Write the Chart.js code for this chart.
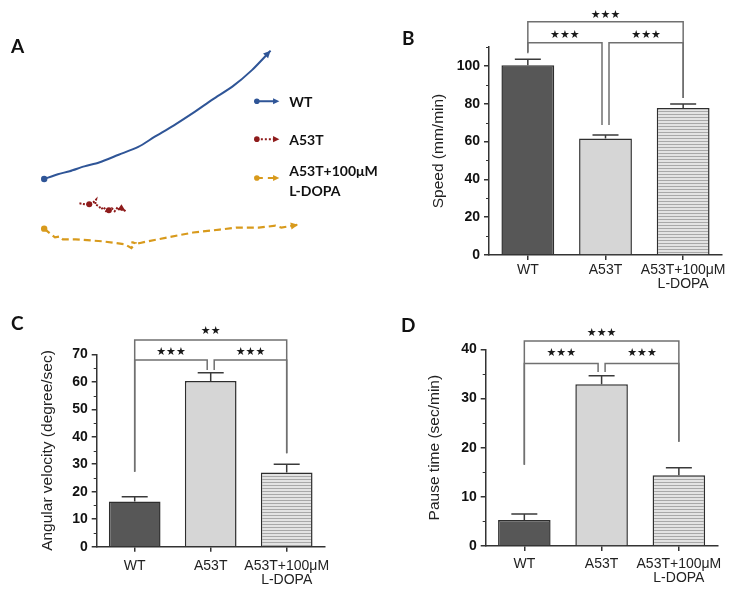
<!DOCTYPE html>
<html>
<head>
<meta charset="utf-8">
<script src="https://cdn.jsdelivr.net/npm/chart.js@4.4.1/dist/chart.umd.min.js"></script>
<style>
  html, body { margin: 0; padding: 0; background: #fff; }
  #fig { position: relative; width: 750px; height: 592px; overflow: hidden; background: #fff; }
  #fig canvas { position: absolute; }
  .tag { position: absolute; font: bold 19px Lato, "Open Sans", sans-serif; color: #111; line-height: 1; }
</style>
</head>
<body>
<div id="fig">
  <canvas id="chartA" width="400" height="290" style="left:0;top:0"></canvas>
  <canvas id="chartB" width="380" height="300" style="left:370px;top:0"></canvas>
  <canvas id="chartC" width="370" height="302" style="left:0;top:290px"></canvas>
  <canvas id="chartD" width="380" height="302" style="left:370px;top:290px"></canvas>
  <div class="tag" style="left:11px;top:36px">A</div>
  <div class="tag" style="left:402px;top:28px">B</div>
  <div class="tag" style="left:11px;top:313px">C</div>
  <div class="tag" style="left:401px;top:315px">D</div>
</div>
<script>
// ─── Data ───────────────────────────────────────────────────────────────────
const groupLabels = ["WT", "A53T", ["A53T+100μM", "L-DOPA"]];

// B: speed
const speedMean = [100.3, 61.6, 77.8];
const speedSem  = [3.2, 1.8, 2.1];
// C: angular velocity
const angularMean = [16.4, 60.3, 27.0];
const angularSem  = [1.8, 3.0, 3.0];
// D: pause time
const pauseMean = [5.3, 32.9, 14.4];
const pauseSem  = [1.2, 1.7, 1.5];

// significance brackets: from/to group, bar level, leg ends, stars
const speedBrackets = [
    { from: 0, to: 2, level: 123.3, leftEnd: 107.4, rightEnd: 83.0, stars: "★★★", starY: 126.6 },
    { from: 0, to: 1, level: 112.2, leftEnd: 106.7, rightEnd: 68.7, stars: "★★★", starY: 116.3 },
    { from: 1, to: 2, level: 112.2, leftEnd: 68.7,  rightEnd: 83.0, stars: "★★★", starY: 116.3 },
];
const angularBrackets = [
    { from: 0, to: 2, level: 75.2, leftEnd: 27.3, rightEnd: 34.0, stars: "★★",  starY: 78.3 },
    { from: 0, to: 1, level: 67.9, leftEnd: 27.3, rightEnd: 64.3, stars: "★★★", starY: 70.8 },
    { from: 1, to: 2, level: 67.9, leftEnd: 64.3, rightEnd: 34.0, stars: "★★★", starY: 70.8 },
];
const pauseBrackets = [
    { from: 0, to: 2, level: 41.7, leftEnd: 16.5, rightEnd: 21.2, stars: "★★★", starY: 43.3 },
    { from: 0, to: 1, level: 37.1, leftEnd: 16.5, rightEnd: 35.4, stars: "★★★", starY: 39.2 },
    { from: 1, to: 2, level: 37.1, leftEnd: 35.4, rightEnd: 21.2, stars: "★★★", starY: 39.2 },
];

// A: trajectories (arena units)
const wtX = [4.1, 5.5, 6.7, 8.2, 9.7, 11.7, 13.7, 15.3, 17.3, 19.3, 21.3, 23.3, 25.3, 27.2];
const wtY = [18.0, 17.5, 17.2, 16.7, 16.3, 15.5, 14.7, 13.7, 12.5, 11.2, 9.8, 8.5, 6.8, 4.8];
const a53tX = [7.7, 8.3, 8.7, 9.1, 9.4, 9.3, 9.7, 9.9, 10.2, 10.4, 10.7, 11.0, 11.3, 11.6, 11.8, 12.1, 12.4];
const a53tY = [20.5, 20.6, 20.6, 20.4, 20.1, 20.6, 20.8, 21.1, 20.9, 21.3, 21.2, 21.0, 21.3, 20.9, 21.2, 21.1, 21.3];
const ldopaX = [4.1, 5.2, 5.7, 6.0, 7.3, 10.0, 12.3, 13.0, 13.4, 13.0, 13.8, 14.7, 16.7, 19.3, 22.0, 23.7, 26.0, 27.7, 28.3, 30.0];
const ldopaY = [23.1, 24.0, 23.9, 24.2, 24.2, 24.4, 24.7, 25.1, 24.6, 24.5, 24.6, 24.4, 24.0, 23.5, 23.2, 23.0, 23.0, 22.8, 23.0, 22.7];

const legendNames = ["WT", "A53T", ["A53T+100μM", "L-DOPA"]];
const legendRows  = [10.0, 13.9, 17.9];

// ─── Colours ────────────────────────────────────────────────────────────────
const BLUE = "#2f5597";
const RED = "#8e1b1b";
const GOLD = "#d89a1c";
const FONT = "'Liberation Sans', Arial, sans-serif";

function stripes() {
    const c = document.createElement("canvas");
    c.width = 4; c.height = 3;
    const g = c.getContext("2d");
    g.fillStyle = "#e3e3e3"; g.fillRect(0, 0, 4, 3);
    g.fillStyle = "#a8a8a8"; g.fillRect(0, 0, 4, 1);
    return g.createPattern(c, "repeat");
}

function drawArrow(ctx, x0, y0, x1, y1, color, size) {
    const ang = Math.atan2(y1 - y0, x1 - x0);
    ctx.save();
    ctx.fillStyle = color;
    ctx.beginPath();
    ctx.moveTo(x1, y1);
    ctx.lineTo(x1 - size * Math.cos(ang - 0.45), y1 - size * Math.sin(ang - 0.45));
    ctx.lineTo(x1 - size * Math.cos(ang + 0.45), y1 - size * Math.sin(ang + 0.45));
    ctx.closePath();
    ctx.fill();
    ctx.restore();
}

// ═══════════════════════════════════════════════════════════════════════════
//  PANEL A — trajectories
// ═══════════════════════════════════════════════════════════════════════════

function track(xs, ys) {
    return xs.map((x, i) => ({ x: x, y: ys[i] }));
}

const trackArrows = {
    id: "trackArrows",
    afterDatasetsDraw(chart) {
        const ctx = chart.ctx;
        chart.data.datasets.forEach((ds, i) => {
            const pts = chart.getDatasetMeta(i).data;
            const a = pts[pts.length - 2], b = pts[pts.length - 1];
            drawArrow(ctx, a.x, a.y, b.x, b.y, ds.borderColor, 8);
        });
    }
};

const trackLegend = {
    id: "trackLegend",
    afterDraw(chart) {
        const ctx = chart.ctx;
        const x = chart.scales.x, y = chart.scales.y;
        const styles = [[], [2, 2], [6, 5]];
        const colors = [BLUE, RED, GOLD];
        legendRows.forEach((row, i) => {
            const py = y.getPixelForValue(row);
            const x0 = x.getPixelForValue(25.8), x1 = x.getPixelForValue(28.1);
            ctx.save();
            ctx.strokeStyle = colors[i];
            ctx.lineWidth = 2;
            ctx.setLineDash(styles[i]);
            ctx.beginPath(); ctx.moveTo(x0, py); ctx.lineTo(x1 - 4, py); ctx.stroke();
            ctx.setLineDash([]);
            ctx.fillStyle = colors[i];
            ctx.beginPath(); ctx.arc(x0, py, 2.8, 0, Math.PI * 2); ctx.fill();
            ctx.restore();
            drawArrow(ctx, x0, py, x1, py, colors[i], 7);

            ctx.save();
            ctx.fillStyle = "#111";
            ctx.font = "bold 14px Lato, 'Open Sans', sans-serif";
            ctx.textBaseline = "middle";
            const tx = x.getPixelForValue(29.1);
            const name = legendNames[i];
            if (Array.isArray(name)) {
                ctx.fillText(name[0], tx, py - 7);
                ctx.fillText(name[1], tx, py + 13);
            } else {
                ctx.fillText(name, tx, py + 1);
            }
            ctx.restore();
        });
    }
};

new Chart(document.getElementById("chartA"), {
    type: "scatter",
    data: {
        datasets: [
            {
                data: track(wtX, wtY),
                showLine: true, borderColor: BLUE, borderWidth: 2, tension: 0.25,
                pointRadius: wtX.map((_, i) => i === 0 ? 3.2 : 0),
                pointBackgroundColor: BLUE, pointBorderWidth: 0,
            },
            {
                data: track(a53tX, a53tY),
                showLine: true, borderColor: RED, borderWidth: 2, borderDash: [2, 1.5],
                pointRadius: a53tX.map((_, i) => (i === 2 || i === 10) ? 3 : 0),
                pointBackgroundColor: RED, pointBorderWidth: 0,
            },
            {
                data: track(ldopaX, ldopaY),
                showLine: true, borderColor: GOLD, borderWidth: 2.2, borderDash: [7, 4],
                pointRadius: ldopaX.map((_, i) => i === 0 ? 3.2 : 0),
                pointBackgroundColor: GOLD, pointBorderWidth: 0,
            },
        ],
    },
    options: {
        responsive: false,
        animation: false,
        events: [],
        layout: { padding: 0 },
        plugins: { legend: { display: false }, tooltip: { enabled: false } },
        scales: {
            x: { type: "linear", display: false, min: 0, max: 40 },
            y: { type: "linear", display: false, min: 0, max: 29, reverse: true },
        },
    },
    plugins: [trackArrows, trackLegend],
});

// ═══════════════════════════════════════════════════════════════════════════
//  PANELS B–D — bar charts
// ═══════════════════════════════════════════════════════════════════════════

function barChart(id, o) {
    const errorBars = {
        id: "errorBars",
        afterDatasetsDraw(chart) {
            const ctx = chart.ctx, y = chart.scales.y;
            chart.getDatasetMeta(0).data.forEach((bar, i) => {
                const top = y.getPixelForValue(o.mean[i] + o.sem[i]);
                ctx.save();
                ctx.strokeStyle = "#3a3a3a";
                ctx.lineWidth = 1.5;
                ctx.beginPath();
                ctx.moveTo(bar.x, bar.y); ctx.lineTo(bar.x, top);
                ctx.moveTo(bar.x - 13, top); ctx.lineTo(bar.x + 13, top);
                ctx.stroke();
                ctx.restore();
            });
        }
    };

    const minorTicks = {
        id: "minorTicks",
        afterDraw(chart) {
            const ctx = chart.ctx, y = chart.scales.y;
            ctx.save();
            ctx.strokeStyle = "#333";
            ctx.lineWidth = 1;
            ctx.beginPath();
            for (let v = o.minorStart; v <= o.max + 1e-9; v += o.step) {
                const py = Math.round(y.getPixelForValue(v)) + 0.5;
                ctx.moveTo(y.right, py); ctx.lineTo(y.right - 3, py);
            }
            ctx.stroke();
            ctx.restore();
        }
    };

    const brackets = {
        id: "brackets",
        afterDraw(chart) {
            const ctx = chart.ctx, x = chart.scales.x, y = chart.scales.y;
            o.brackets.forEach(b => {
                const xl = x.getPixelForValue(b.from) + (b.from === 1 ? 3.5 : 0);
                const xr = x.getPixelForValue(b.to) - (b.to === 1 ? 3.5 : 0);
                const yl = y.getPixelForValue(b.level);
                ctx.save();
                ctx.strokeStyle = "#707070";
                ctx.lineWidth = 1.5;
                ctx.beginPath();
                ctx.moveTo(xl, y.getPixelForValue(b.leftEnd));
                ctx.lineTo(xl, yl);
                ctx.lineTo(xr, yl);
                ctx.lineTo(xr, y.getPixelForValue(b.rightEnd));
                ctx.stroke();
                ctx.fillStyle = "#1a1a1a";
                ctx.font = "11px 'DejaVu Sans', sans-serif";
                ctx.textAlign = "center";
                ctx.textBaseline = "middle";
                ctx.fillText(b.stars, (xl + xr) / 2, y.getPixelForValue(b.starY));
                ctx.restore();
            });
        }
    };

    return new Chart(document.getElementById(id), {
        type: "bar",
        data: {
            labels: groupLabels,
            datasets: [{
                data: o.mean,
                backgroundColor: ["#575757", "#d6d6d6", stripes()],
                borderColor: "#2e2e2e",
                borderWidth: 1.5,
                barPercentage: 0.68,
                categoryPercentage: 1,
            }],
        },
        options: {
            responsive: false,
            animation: false,
            events: [],
            layout: { padding: { left: 0, top: o.top, right: o.right, bottom: 0 } },
            plugins: { legend: { display: false }, tooltip: { enabled: false } },
            scales: {
                x: {
                    grid: { display: true, drawOnChartArea: false, offset: false, tickLength: 5, color: "#333", lineWidth: 1.5 },
                    border: { display: true, color: "#333", width: 1.5 },
                    ticks: { color: "#222", font: { family: FONT, size: 14, lineHeight: 1.0 }, padding: o.labelPad, maxRotation: 0, autoSkip: false },
                    afterFit: s => { s.height = o.xh; },
                },
                y: {
                    min: 0,
                    max: o.max,
                    ticks: { stepSize: o.step, includeBounds: false, color: "#111", font: { family: FONT, size: 14, weight: "bold" }, padding: 4 },
                    grid: { drawOnChartArea: false, tickLength: 5, color: "#333", lineWidth: 1.5 },
                    border: { display: true, color: "#333", width: 1.5 },
                    title: { display: true, text: o.title, color: "#222", font: { family: FONT, size: 15.5 }, padding: { top: o.titlePad, bottom: 0 } },
                    afterFit: s => { s.width = o.yw; },
                },
            },
        },
        plugins: [errorBars, minorTicks, brackets],
    });
}

barChart("chartB", {
    mean: speedMean, sem: speedSem, brackets: speedBrackets,
    max: 110, step: 20, minorStart: 10, title: "Speed (mm/min)",
    top: 47, right: 28, xh: 45, yw: 119, titlePad: 59, labelPad: 3,
});

barChart("chartC", {
    mean: angularMean, sem: angularSem, brackets: angularBrackets,
    max: 70, step: 10, minorStart: 5, title: "Angular velocity (degree/sec)",
    top: 64.3, right: 45.3, xh: 45.3, yw: 96.7, titlePad: 38, labelPad: 7,
});

barChart("chartD", {
    mean: pauseMean, sem: pauseSem, brackets: pauseBrackets,
    max: 40, step: 10, minorStart: 5, title: "Pause time (sec/min)",
    top: 59.3, right: 32.5, xh: 46, yw: 115.7, titlePad: 55, labelPad: 6,
});
</script>
</body>
</html>
